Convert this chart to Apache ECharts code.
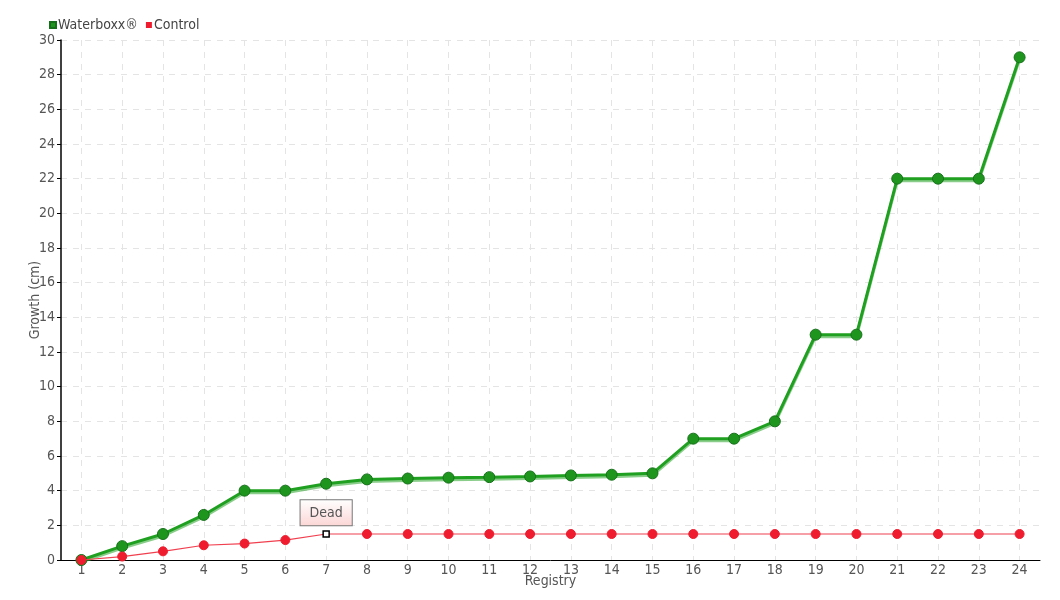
<!DOCTYPE html>
<html><head><meta charset="utf-8">
<script src="https://cdn.jsdelivr.net/npm/echarts@6/dist/echarts.min.js"></script>
<style>html,body{margin:0;padding:0;background:#fff}#c{width:1060px;height:600px}</style>
</head><body><div id="c"></div>
<script>
const categories = ['1','2','3','4','5','6','7','8','9','10','11','12','13','14','15','16','17','18','19','20','21','22','23','24'];
const waterboxx = [0, 0.8, 1.5, 2.6, 4.0, 4.0, 4.4, 4.65, 4.7, 4.75, 4.78, 4.82, 4.88, 4.92, 5.0, 7.0, 7.0, 8.0, 13.0, 13.0, 22.0, 22.0, 22.0, 29.0];
const control = [0, 0.2, 0.5, 0.85, 0.95, 1.15, 1.5, 1.5, 1.5, 1.5, 1.5, 1.5, 1.5, 1.5, 1.5, 1.5, 1.5, 1.5, 1.5, 1.5, 1.5, 1.5, 1.5, 1.5];
const deadIndex = 6;
const deadText = 'Dead';

const FONT = "'DejaVu Sans Condensed', 'Liberation Sans Narrow', 'DejaVu Sans', sans-serif";
const chart = echarts.init(document.getElementById('c'));
const controlData = control.map((v, i) => i === deadIndex ? {
  value: v,
  symbol: 'rect', symbolSize: 6,
  itemStyle: {color: '#fff', borderColor: '#000', borderWidth: 1.5},
  label: {
    show: true, position: 'top', distance: 5, formatter: deadText,
    color: '#555', fontSize: 14, fontFamily: FONT,
    padding: [6, 9, 5, 9],
    borderColor: '#777', borderWidth: 1,
    backgroundColor: new echarts.graphic.LinearGradient(0, 0, 0, 1, [{offset: 0, color: '#fff'}, {offset: 1, color: '#fcd6d6'}])
  }
} : v);

chart.setOption({
  animation: false,
  textStyle: {fontFamily: FONT},
  legend: {
    left: 44, top: 13, itemWidth: 6, itemHeight: 6, itemGap: 8,
    icon: 'rect',
    textStyle: {color: '#444', fontSize: 14, fontFamily: FONT, padding: [0, 0, 0, -3]},
    data: ['Waterboxx®', 'Control']
  },
  grid: {left: 61, right: 20, top: 40, bottom: 40, containLabel: false, outerBoundsMode: 'none'},
  xAxis: {
    type: 'category', data: categories,
    name: 'Registry', nameLocation: 'middle', nameGap: 14, nameMoveOverlap: false,
    nameTextStyle: {color: '#555', fontSize: 14, fontFamily: FONT},
    axisLine: {lineStyle: {color: '#000', width: 1}},
    axisTick: {alignWithLabel: true, lineStyle: {color: '#000'}, length: 4},
    axisLabel: {color: '#555', fontSize: 14, fontFamily: FONT, margin: 3},
    splitLine: {show: true, alignWithLabel: true, lineStyle: {color: '#e4e4e4', type: [6, 6]}}
  },
  yAxis: {
    type: 'value', min: 0, max: 30, interval: 2,
    name: 'Growth (cm)', nameLocation: 'middle', nameGap: 19, nameMoveOverlap: false,
    nameTextStyle: {color: '#555', fontSize: 14, fontFamily: FONT},
    axisLine: {show: true, lineStyle: {color: '#000', width: 1.5}},
    axisTick: {show: true, lineStyle: {color: '#000'}, length: 4},
    axisLabel: {color: '#555', fontSize: 14, fontFamily: FONT, margin: 6},
    splitLine: {show: true, lineStyle: {color: '#e4e4e4', type: [6, 6]}}
  },
  series: [
    {
      name: 'Waterboxx®', type: 'line', data: waterboxx,
      symbol: 'circle', symbolSize: 11,
      itemStyle: {color: '#1e961e', borderColor: '#16701a', borderWidth: 1},
      lineStyle: {color: '#20a020', width: 3, shadowColor: 'rgba(60,170,60,0.6)', shadowOffsetY: 2, shadowBlur: 0},
      z: 2
    },
    {
      name: 'Control', type: 'line', data: controlData,
      symbol: 'circle', symbolSize: 9,
      itemStyle: {color: '#ee1c2e', borderColor: '#ee1c2e'},
      lineStyle: {color: '#f0404f', width: 1.2},
      z: 3
    }
  ]
});
</script></body></html>
